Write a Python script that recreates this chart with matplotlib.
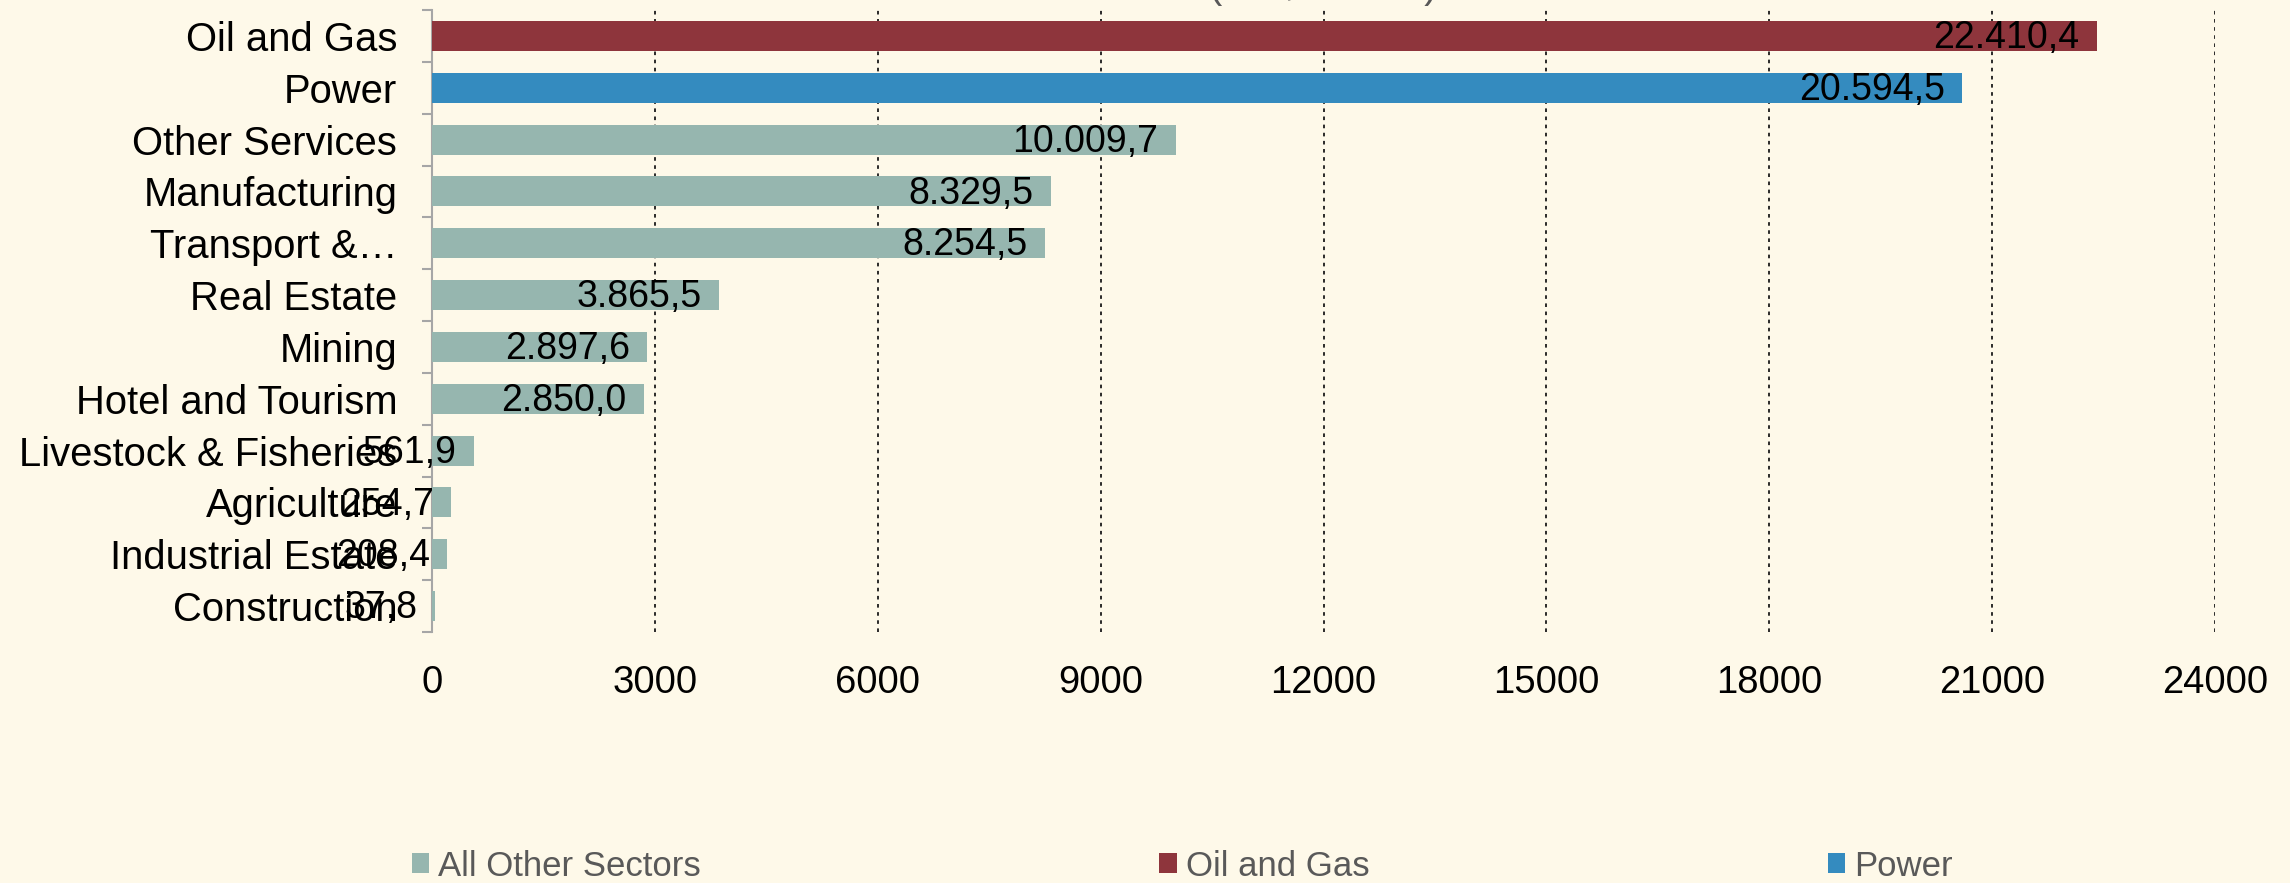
import matplotlib
matplotlib.use("Agg")
import matplotlib.pyplot as plt
from matplotlib.patches import Patch
from matplotlib.ticker import FixedLocator

plt.rcParams['font.family'] = ['Liberation Sans', 'DejaVu Sans']

categories = ["Oil and Gas", "Power", "Other Services", "Manufacturing", "Transport &…",
              "Real Estate", "Mining", "Hotel and Tourism", "Livestock & Fisheries",
              "Agriculture", "Industrial Estate", "Construction"]
values = [22410.4, 20594.5, 10009.7, 8329.5, 8254.5, 3865.5, 2897.6, 2850.0,
          561.9, 254.7, 208.4, 37.8]
groups = ["Oil and Gas", "Power"] + ["All Other Sectors"] * 10
legend_labels = ["All Other Sectors", "Oil and Gas", "Power"]
x_ticks = [0, 3000, 6000, 9000, 12000, 15000, 18000, 21000, 24000]
title = "(US$ Million)"

colors = {"All Other Sectors": "#96B6AF", "Oil and Gas": "#8E353C", "Power": "#348BBF"}
bg = "#FEF9E9"

def fmt(v):
    s = f"{v:,.1f}"
    return s.replace(",", "X").replace(".", ",").replace("X", ".")

fig = plt.figure(figsize=(22.9, 8.83), dpi=100, facecolor=bg)
ax = fig.add_axes([432 / 2290, 1 - 632 / 883, (2215 - 432) / 2290, (632 - 10) / 883])
ax.set_facecolor(bg)

pos = list(range(len(categories)))
bars = ax.barh(pos, values, height=0.58, color=[colors[g] for g in groups], zorder=3)
ax.set_ylim(len(categories) - 0.5, -0.5)
ax.set_xlim(0, 24000)

for b, v in zip(bars, values):
    ax.annotate(fmt(v), xy=(b.get_width(), b.get_y() + b.get_height() / 2),
                xytext=(-12.5, -1.5), textcoords="offset points",
                ha="right", va="center", fontsize=27, color="black", zorder=4)

ax.set_yticks(pos)
ax.set_yticklabels(categories, fontsize=28.8)
ax.yaxis.set_minor_locator(FixedLocator([p - 0.5 for p in pos] + [len(pos) - 0.5]))
ax.tick_params(axis="y", which="major", length=0, pad=25)
ax.tick_params(axis="y", which="minor", length=7, width=1.5, color="#A6A6A6", direction="out")

ax.set_xticks(x_ticks)
ax.set_xticklabels([str(t) for t in x_ticks], fontsize=27.5)
ax.tick_params(axis="x", length=0, pad=24)

ax.grid(axis="x", color="#1a1a1a", linestyle=(0, (2, 2.5)), linewidth=1.3, zorder=1)
for s in ["top", "right", "bottom"]:
    ax.spines[s].set_visible(False)
ax.spines["left"].set_color("#A6A6A6")
ax.spines["left"].set_linewidth(1.5)

handles = [Patch(facecolor=colors[l], edgecolor="none") for l in legend_labels]
fig.legend(handles, legend_labels, loc="center left",
           bbox_to_anchor=(412 / 2290, 1 - 866 / 883), bbox_transform=fig.transFigure,
           ncol=3, frameon=False, fontsize=25, labelcolor="#595959",
           borderpad=0, borderaxespad=0, handlelength=0.5, handleheight=0.52,
           handletextpad=0.26, columnspacing=13.2)

fig.text(1323.5 / 2290, 1 + 2 / 883, title, ha="center", va="baseline",
         fontsize=28.8, color="#595959")

fig.savefig("out.png", dpi=100, facecolor=bg)
